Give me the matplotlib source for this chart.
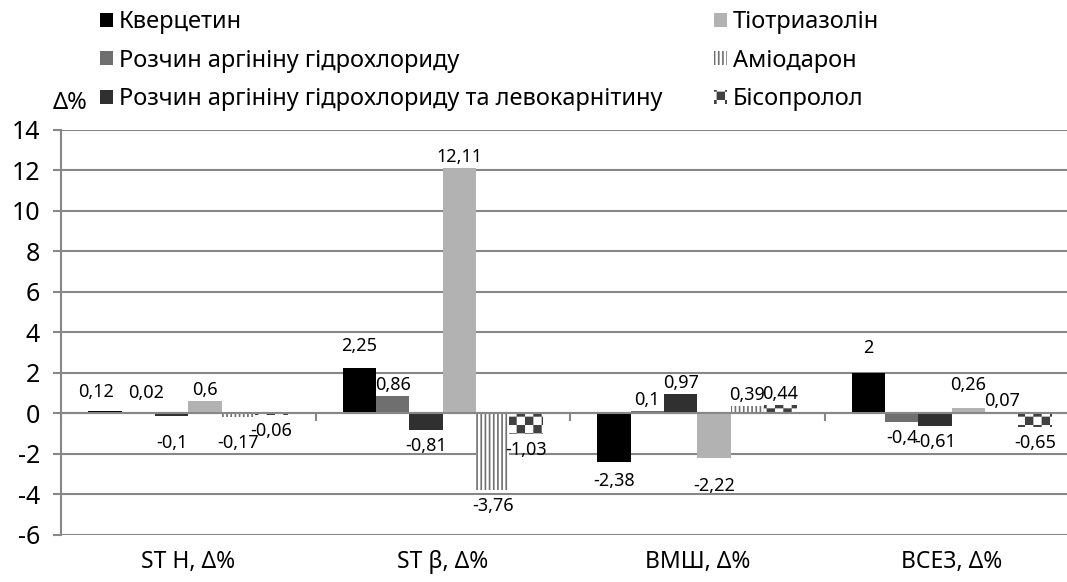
import warnings
import numpy as np
import matplotlib
matplotlib.use("Agg")
import matplotlib.pyplot as plt
import matplotlib.hatch as mhatch
from matplotlib.path import Path
from matplotlib.transforms import blended_transform_factory

warnings.filterwarnings("ignore")

# --- data ---
groups = ["ST H, Δ%", "ST β, Δ%", "ВМШ, Δ%", "ВСЕЗ, Δ%"]
series_names = [
    "Кверцетин",
    "Розчин аргініну гідрохлориду",
    "Розчин аргініну гідрохлориду та левокарнітину",
    "Тіотриазолін",
    "Аміодарон",
    "Бісопролол",
]
kvercetyn = [0.12, 2.25, -2.38, 2.0]
arginine = [0.02, 0.86, 0.1, -0.4]
arginine_levo = [-0.1, -0.81, 0.97, -0.61]
tiotriazolin = [0.6, 12.11, -2.22, 0.26]
amiodaron = [-0.17, -3.76, 0.39, 0.07]
bisoprolol = [-0.06, -1.03, 0.44, -0.65]
values = [kvercetyn, arginine, arginine_levo, tiotriazolin, amiodaron, bisoprolol]

y_ticks = list(range(-6, 15, 2))


# checkerboard fill used by Excel for the last series
class CheckerHatch(mhatch.HatchPatternBase):
    cells = 12
    inset = 0.008

    def __init__(self, hatch, density):
        self.n = self.cells if "c" in hatch else 0
        self.num_vertices = (self.n * self.n // 2) * 5

    def set_vertices_and_codes(self, vertices, codes):
        n = self.n
        squares = []
        for i in range(n):
            for j in range(n):
                if (i + j) % 2 == 0:
                    x0, y0 = j / n + self.inset, i / n + self.inset
                    x1, y1 = (j + 1) / n - self.inset, (i + 1) / n - self.inset
                    squares.append([[x0, y0], [x1, y0], [x1, y1], [x0, y1], [x0, y0]])
        vertices[:] = np.array(squares).reshape(-1, 2)
        codes[:] = np.tile([Path.MOVETO, Path.LINETO, Path.LINETO,
                            Path.LINETO, Path.CLOSEPOLY], len(squares))


mhatch._hatch_types.append(CheckerHatch)

plt.rcParams["font.family"] = ["Noto Sans", "DejaVu Sans"]
plt.rcParams["hatch.linewidth"] = 1.2

styles = [
    dict(color="#000000"),
    dict(color="#6f6f6f"),
    dict(color="#303030"),
    dict(color="#b2b2b2"),
    dict(facecolor="white", edgecolor="#707070", hatch="||||", linewidth=0),
    dict(facecolor="white", edgecolor="#404040", hatch="c", linewidth=0),
]

# label nudges (pixels) where Excel moved labels to avoid overlap
nudges = {
    (0, 0): (-9, 8), (1, 0): (8, 9), (2, 0): (0, -11), (4, 0): (0, -10),
    (0, 1): (0, 11), (3, 2): (0, -12), (0, 2): (0, -3),
    (0, 3): (0, 14), (3, 3): (0, 12),
}

fig = plt.figure(figsize=(10.67, 5.82), dpi=100)
W, H = 1067, 582
ax = fig.add_axes([61 / W, 1 - 535 / H, 1018 / W, 405 / H])

x = np.arange(len(groups))
width = 0.131
grid_col = "#878787"

handles = []
for k, (name, vals) in enumerate(zip(series_names, values)):
    pos = x + (k - 2.5) * width
    bars = ax.bar(pos, vals, width, label=name, zorder=3, **styles[k])
    handles.append(bars)
    for gi, (p, v) in enumerate(zip(pos, vals)):
        dx, dy = nudges.get((k, gi), (0, 0))
        base = 11 if v >= 0 else -16
        txt = f"{v:g}".replace(".", ",")
        ax.annotate(txt, (p, v), xytext=(dx * 0.72, (base + dy) * 0.72),
                    textcoords="offset points", ha="center", va="center",
                    fontsize=13, color="#000000", zorder=4)

ax.set_xlim(-0.5, 3.5)
ax.set_ylim(-6, 14)
ax.set_yticks(y_ticks)
ax.set_yticklabels([str(t) for t in y_ticks])
ax.yaxis.grid(True, color=grid_col, linewidth=1.5, zorder=0)
ax.set_axisbelow(True)

for s in ["top", "right"]:
    ax.spines[s].set_visible(False)
ax.spines["left"].set_color(grid_col)
ax.spines["left"].set_linewidth(1.5)
ax.spines["bottom"].set_position(("data", 0))
ax.spines["bottom"].set_color(grid_col)
ax.spines["bottom"].set_linewidth(1.5)
ax.spines["bottom"].set_zorder(5)

ax.set_xticks(np.arange(-0.5, 4.0, 1.0))
ax.set_xticklabels([])
ax.tick_params(axis="x", direction="out", length=6, width=1.5, color=grid_col)
ax.tick_params(axis="y", direction="out", length=6, width=1.5, color=grid_col,
               labelsize=18, pad=9)

xt = blended_transform_factory(ax.transData, ax.transAxes)
for i, g in enumerate(groups):
    ax.text(i, -0.066, g, transform=xt, ha="center", va="center", fontsize=16.5)

fig.text(70 / W, 1 - 103 / H, "Δ%", ha="center", va="center", fontsize=17)

leg_kw = dict(loc="upper left", frameon=False, fontsize=17, handlelength=0.55,
              handleheight=0.55, handletextpad=0.25, labelspacing=0.62,
              borderpad=0, borderaxespad=0)
fig.legend(handles[:3], series_names[:3], bbox_to_anchor=(100 / W, 1 - 10 / H), **leg_kw)
fig.legend(handles[3:], series_names[3:], bbox_to_anchor=(714 / W, 1 - 10 / H), **leg_kw)

fig.savefig("out.png", dpi=100)
